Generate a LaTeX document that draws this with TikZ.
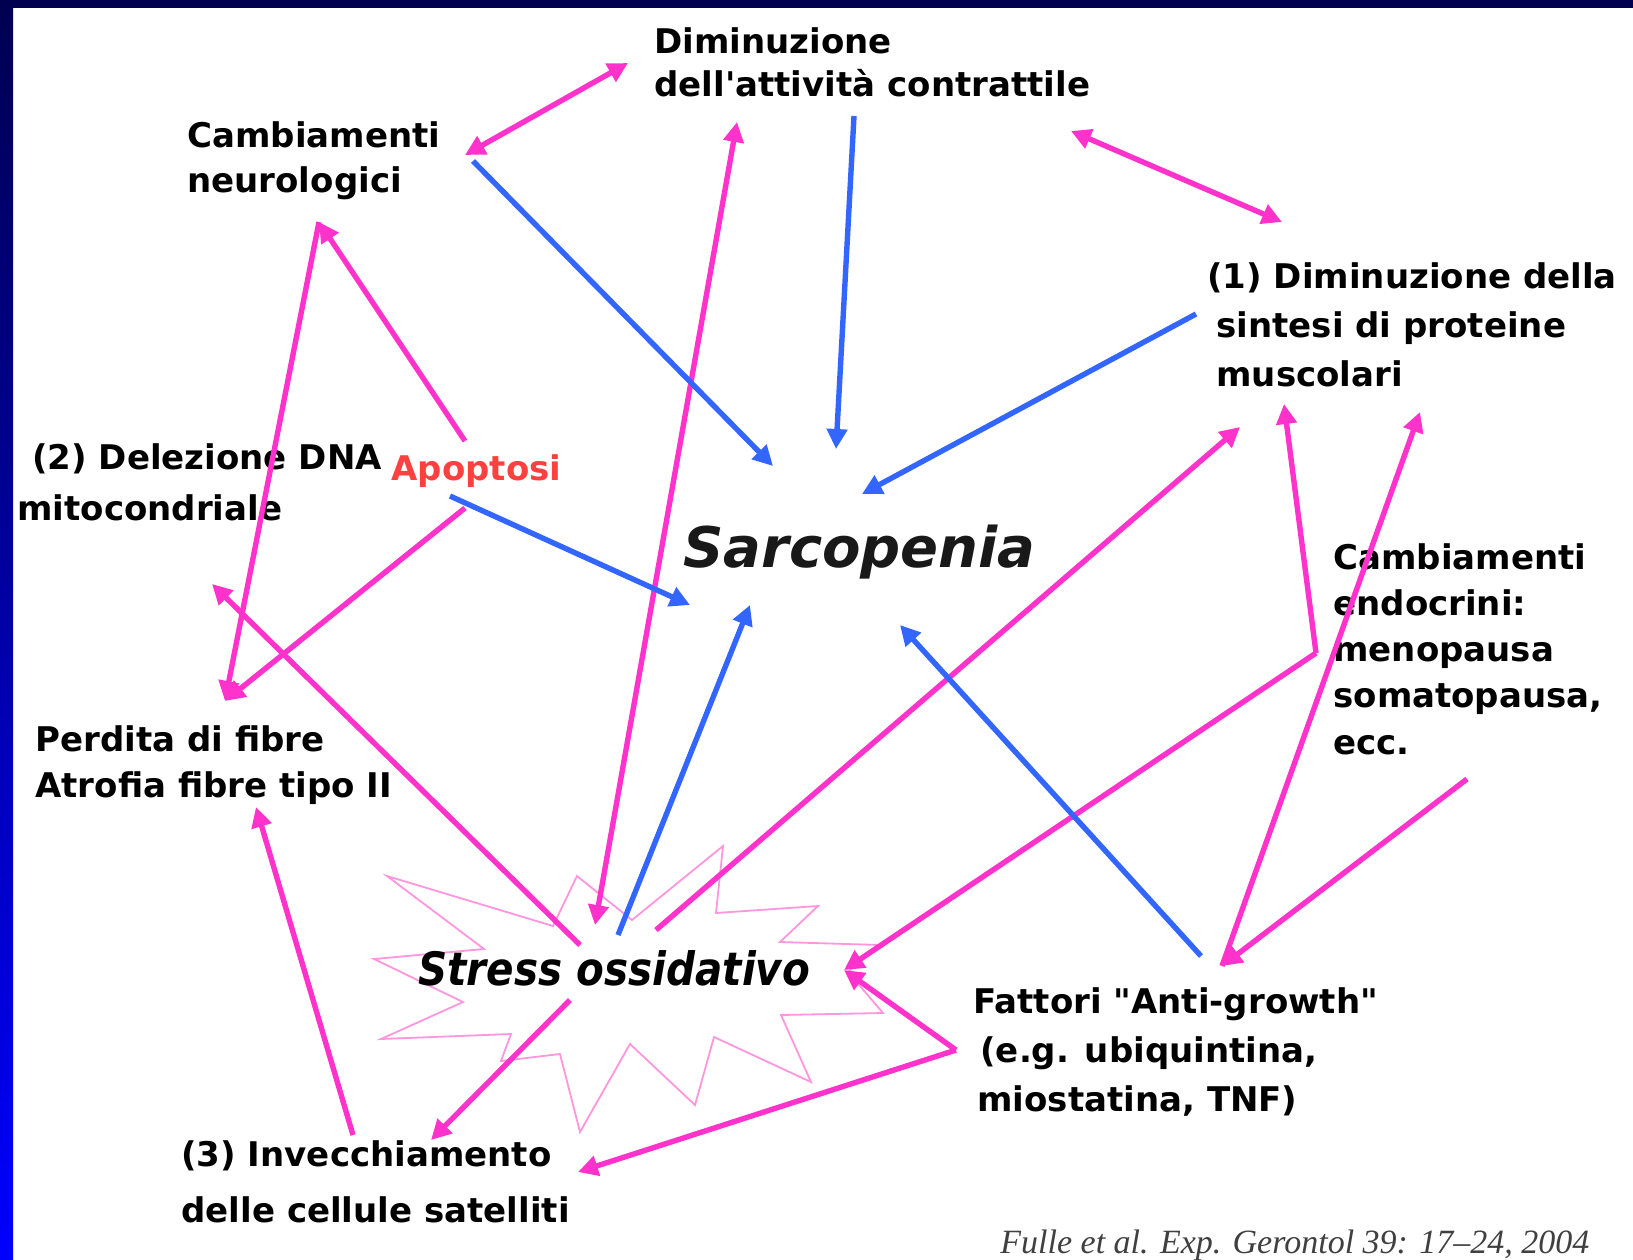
\documentclass[tikz,border=0pt]{standalone}
\usepackage{fontspec}
\setmainfont{DejaVu Sans}
\newfontfamily\stressfont{DejaVu Sans}[FakeStretch=0.88]
\newfontfamily\citefont{Liberation Serif}
\usetikzlibrary{arrows.meta}
\definecolor{arrowpink}{RGB}{255,51,204}
\definecolor{arrowblue}{RGB}{51,102,255}
\definecolor{starpink}{RGB}{255,150,222}
\definecolor{apored}{RGB}{255,64,64}
\definecolor{framenavy}{RGB}{0,0,80}
\definecolor{frameblue}{RGB}{0,0,255}
\begin{document}
\begin{tikzpicture}[x=0.5pt,y=-0.5pt,
  lbl/.style={anchor=base west,inner sep=0pt,align=left,font=\fontsize{17}{#1}\selectfont\bfseries},
  lbl/.default=23,
  pinkarr/.style={draw=arrowpink,line width=2.7pt,-{Triangle[length=10pt,width=10pt]}},
  pinkboth/.style={pinkarr,{Triangle[length=10pt,width=10pt]}-{Triangle[length=10pt,width=10pt]}},
  bluearr/.style={draw=arrowblue,line width=2.7pt,-{Triangle[length=10pt,width=10pt]}}]
  % frame
  \useasboundingbox (0,0) rectangle (1633,1259);
  \fill[white] (0,0) rectangle (1633,1259);
  \shade[top color=framenavy,bottom color=frameblue] (0,0) rectangle (13,1259);
  \fill[framenavy] (0,0) rectangle (1633,8);
  % starburst
  \draw[starpink,line width=0.9pt] (387,876) -- (553,926) -- (577,876) -- (632,920) -- (723,846) -- (716,913)
    -- (818,906) -- (780,942) -- (880,945) -- (848,972) -- (883,1013) -- (781,1015) -- (811,1082) -- (714,1037)
    -- (695,1105) -- (630,1044) -- (580,1132) -- (560,1054) -- (501,1061) -- (511,1034) -- (381,1039)
    -- (463,1002) -- (374,959) -- (484,949) -- cycle;
  % labels (base = last line)
  \node[lbl=21.5] (dimatt) at (654,96) {Diminuzione\\dell\textquotesingle attività contrattile};
  \node[lbl=22.5] (neuro) at (187,192) {Cambiamenti\\neurologici};
  \node[lbl=24.5] (sintesi) at (1207,386) {(1) Diminuzione della\\\hspace*{4.5pt}sintesi di proteine\\\hspace*{4.5pt}muscolari};
  \node[lbl=25.5] (delez) at (17,520) {\hspace*{7.5pt}(2) Delezione DNA\\mitocondriale};
  \node[lbl,text=apored] (apopt) at (391,480) {Apoptosi};
  \node[anchor=base west,inner sep=0pt,text=black!90,font=\fontsize{28}{30}\selectfont\bfseries\itshape] (sarc) at (683,567) {Sarcopenia};
  \node[lbl=23.1] (endo) at (1333,754) {Cambiamenti\\endocrini:\\menopausa\\somatopausa,\\ecc.};
  \node[lbl=23] (perdita) at (35,797) {Perdita di fibre\\Atrofia fibre tipo II};
  \node[anchor=base west,inner sep=0pt,font=\stressfont\fontsize{23}{25}\selectfont\bfseries\itshape] (stress) at (418,985) {Stress ossidativo};
  \node[lbl=24.5] (fattori) at (973,1111) {Fattori \textquotedbl Anti-growth\textquotedbl\\\hspace*{3.5pt}(e.g. ubiquintina,\\\hspace*{2pt}miostatina, TNF)};
  \node[lbl=28] (invecch) at (181,1222) {(3) Invecchiamento\\delle cellule satelliti};
  \node[anchor=base west,inner sep=0pt,text=black!75,font=\citefont\fontsize{17}{19}\selectfont\itshape] (cite) at (1000,1253) {Fulle et al. Exp. Gerontol 39: 17–24, 2004};
  % arrow ends
  \coordinate (neuroR) at (465,155);   \coordinate (dimattL) at (628,63);
  \coordinate (dimattR) at (1071,131); \coordinate (sintesiT) at (1282,222);
  \coordinate (apoptT) at (465,441);   \coordinate (neuroB) at (319,222);
  \coordinate (apoptB) at (465,508);   \coordinate (perditaT) at (225,701);
  \coordinate (stressL) at (580,945);  \coordinate (delezB) at (212,584);
  \coordinate (dimattB) at (737,122);  \coordinate (stressT) at (595,925);
  \coordinate (stressR) at (656,930);  \coordinate (sintesiB) at (1240,427);
  \coordinate (endoL) at (1316,653);   \coordinate (stressE) at (844,970);
  \coordinate (sintesiM) at (1284,404);
  \coordinate (fattoriT) at (1222,966); \coordinate (sintesiC) at (1420,412);
  \coordinate (endoB) at (1467,779);
  \coordinate (fattoriL) at (956,1050); \coordinate (invecchR) at (578,1172);
  \coordinate (stressB) at (570,1000); \coordinate (invecchT) at (431,1140);
  \coordinate (invecchL) at (353,1135); \coordinate (perditaB) at (256,807);
  \coordinate (neuroS) at (473,161);   \coordinate (sarcNW) at (773,466);
  \coordinate (dimattS) at (854,116);  \coordinate (sarcN) at (836,449);
  \coordinate (sintesiL) at (1196,314); \coordinate (sarcNE) at (862,494);
  \coordinate (apoptS) at (450,496);   \coordinate (sarcW) at (690,605);
  \coordinate (stressN) at (618,935);  \coordinate (sarcS) at (750,605);
  \coordinate (fattoriN) at (1201,956); \coordinate (sarcSE) at (900,625);
  % pink arrows
  \draw[pinkboth] (neuroR) -- (dimattL);
  \draw[pinkboth] (dimattR) -- (sintesiT);
  \draw[pinkarr] (apoptT) -- (neuroB);
  \draw[pinkarr] (neuroB) -- (perditaT);
  \draw[pinkarr] (apoptB) -- (perditaT);
  \draw[pinkarr] (stressL) -- (delezB);
  \draw[pinkboth] (dimattB) -- (stressT);
  \draw[pinkarr] (stressR) -- (sintesiB);
  \draw[pinkarr] (endoL) -- (stressE);
  \draw[pinkarr] (endoL) -- (sintesiM);
  \draw[pinkarr] (fattoriT) -- (sintesiC);
  \draw[pinkarr] (endoB) -- (fattoriT);
  \draw[pinkarr] (fattoriL) -- (stressE);
  \draw[pinkarr] (fattoriL) -- (invecchR);
  \draw[pinkarr] (stressB) -- (invecchT);
  \draw[pinkarr] (invecchL) -- (perditaB);
  % blue arrows
  \draw[bluearr] (neuroS) -- (sarcNW);
  \draw[bluearr] (dimattS) -- (sarcN);
  \draw[bluearr] (sintesiL) -- (sarcNE);
  \draw[bluearr] (apoptS) -- (sarcW);
  \draw[bluearr] (stressN) -- (sarcS);
  \draw[bluearr] (fattoriN) -- (sarcSE);
\end{tikzpicture}
\end{document}
